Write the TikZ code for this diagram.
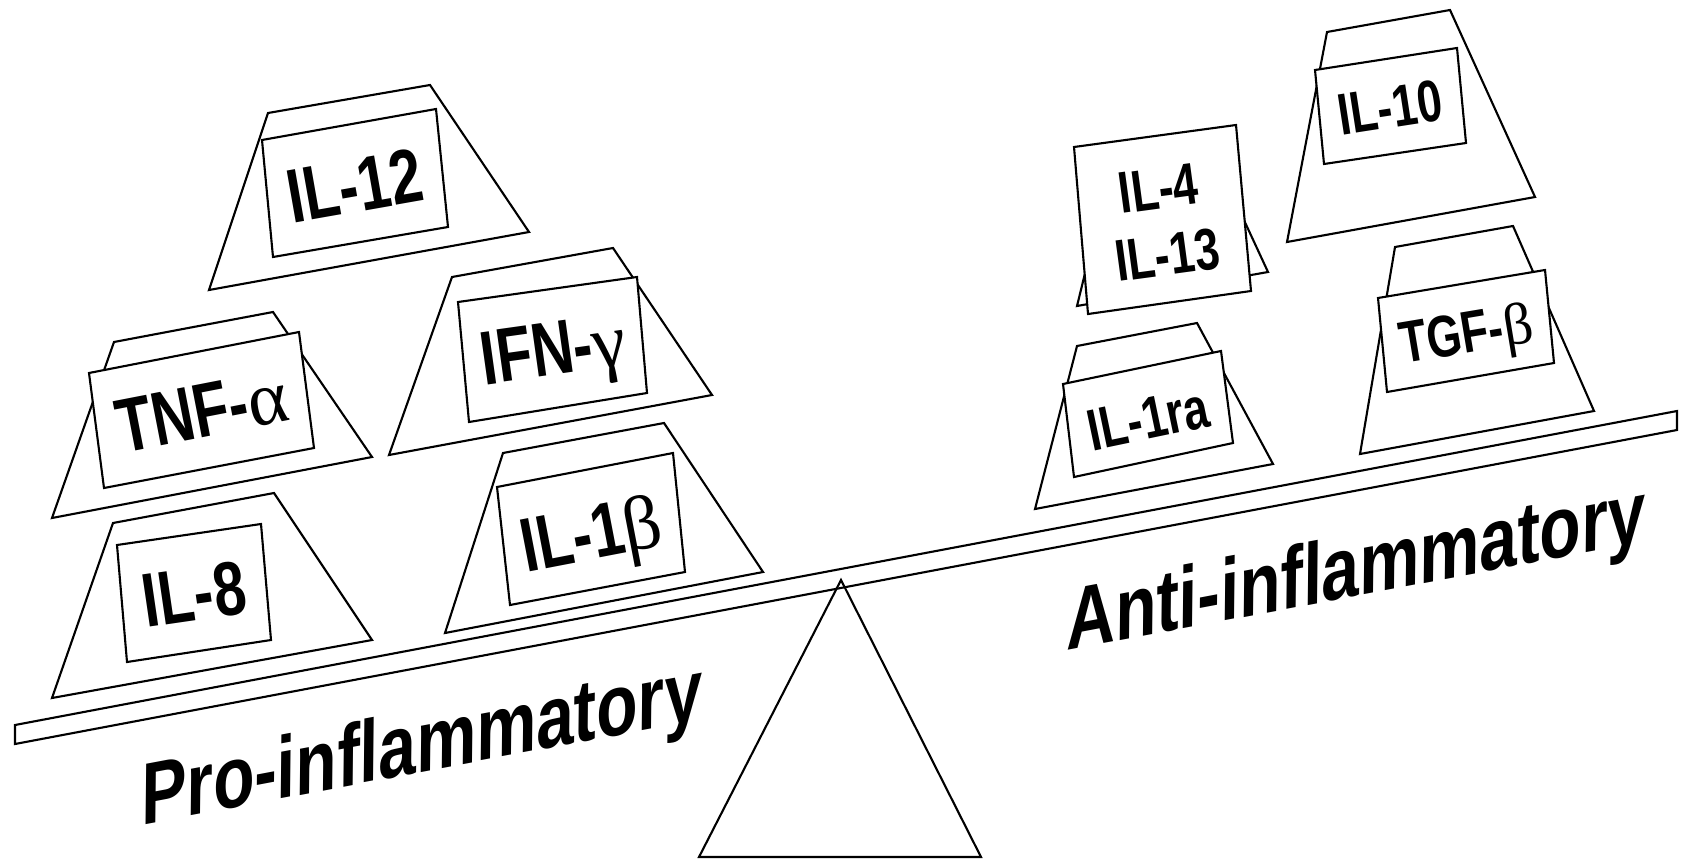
\documentclass[tikz,border=0pt]{standalone}
\usepackage{fontspec}
\setmainfont{Liberation Sans}
\newfontfamily\tagfont[FakeStretch=0.76]{Liberation Sans}
\newfontfamily\sidefont[FakeStretch=0.8, FakeSlant=0.2]{Liberation Sans}
\newfontfamily\greekfont{Liberation Serif}
\newcommand{\gk}[1]{{\greekfont\mdseries #1}}

\begin{document}
\begin{tikzpicture}[x=0.02cm, y=-0.02cm, line width=1.2pt, line join=miter,
    weight/.style={draw, fill=white},
    card/.style={draw, fill=white},
    protag/.style={font=\tagfont\bfseries\fontsize{43.5}{48}\selectfont, inner sep=0pt, text height=31pt, text depth=0pt},
    antitag/.style={font=\tagfont\bfseries\fontsize{33.5}{38}\selectfont, inner sep=0pt, text height=24pt, text depth=0pt},
    sidelabel/.style={font=\sidefont\bfseries\fontsize{49}{54}\selectfont, inner sep=0pt, text height=35pt, text depth=0pt}]
    \useasboundingbox (0,0) rectangle (1682,862);

    % fulcrum and beam
    \draw (699,857) -- (841,580) -- (981,857) -- cycle;
    \draw (15,725) -- (1677,411) -- (1677,430) -- (15,744) -- cycle;

    % pro-inflammatory side
    \draw[weight] (268,113) -- (430,85) -- (529,232) -- (209,290) -- cycle;
    \draw[card] (262,140) -- (436,109) -- (448,227) -- (273,257) -- cycle;
    \node[protag, rotate=10] (il12) at (355,185) {IL-12};

    \draw[weight] (114,342) -- (273,312) -- (372,457) -- (52,518) -- cycle;
    \draw[card] (89,373) -- (299,332) -- (314,448) -- (104,488) -- cycle;
    \node[protag, rotate=11] (tnf) at (202,410) {TNF-\gk{α}};

    \draw[weight] (113,523) -- (274,493) -- (372,640) -- (52,698) -- cycle;
    \draw[card] (117,545) -- (261,524) -- (271,640) -- (127,662) -- cycle;
    \node[protag, rotate=8.3] (il8) at (194,593) {IL-8};

    \draw[weight] (452,277) -- (613,248) -- (712,395) -- (389,455) -- cycle;
    \draw[card] (458,302) -- (637,277) -- (647,393) -- (469,422) -- cycle;
    \node[protag, rotate=8] (ifn) at (553,348) {IFN-\gk{γ}};

    \draw[weight] (503,453) -- (664,423) -- (763,572) -- (445,633) -- cycle;
    \draw[card] (497,487) -- (673,453) -- (685,572) -- (510,605) -- cycle;
    \node[protag, rotate=10.9] (il1b) at (591,532) {IL-1\gk{β}};

    % anti-inflammatory side
    \draw[weight] (1327,32) -- (1450,10) -- (1535,197) -- (1287,242) -- cycle;
    \draw[card] (1315,70) -- (1457,48) -- (1466,143) -- (1324,164) -- cycle;
    \node[antitag, rotate=8.8] (il10) at (1390,107) {IL-10};

    \draw[weight] (1100,212) -- (1230,190) -- (1268,272) -- (1077,306) -- cycle;
    \draw[card] (1074,147) -- (1236,125) -- (1251,291) -- (1088,314) -- cycle;
    \node[antitag, text height=, text depth=, align=center, rotate=7.7] (il4) at (1163,222) {IL-4\\IL-13};

    \draw[weight] (1077,346) -- (1197,323) -- (1273,464) -- (1035,509) -- cycle;
    \draw[card] (1063,384) -- (1221,351) -- (1233,443) -- (1074,477) -- cycle;
    \node[antitag, rotate=11.8] (il1ra) at (1148,418) {IL-1ra};

    \draw[weight] (1395,247) -- (1513,226) -- (1594,411) -- (1360,454) -- cycle;
    \draw[card] (1378,298) -- (1545,270) -- (1554,363) -- (1387,392) -- cycle;
    \node[antitag, rotate=9.5] (tgf) at (1466,332) {TGF-\gk{β}};

    % side labels under the beam
    \node[sidelabel, rotate=10.7] (pro) at (416,742) {Pro-inflammatory};
    \node[sidelabel, rotate=10.7] (anti) at (1350,566) {Anti-inflammatory};
\end{tikzpicture}
\end{document}
